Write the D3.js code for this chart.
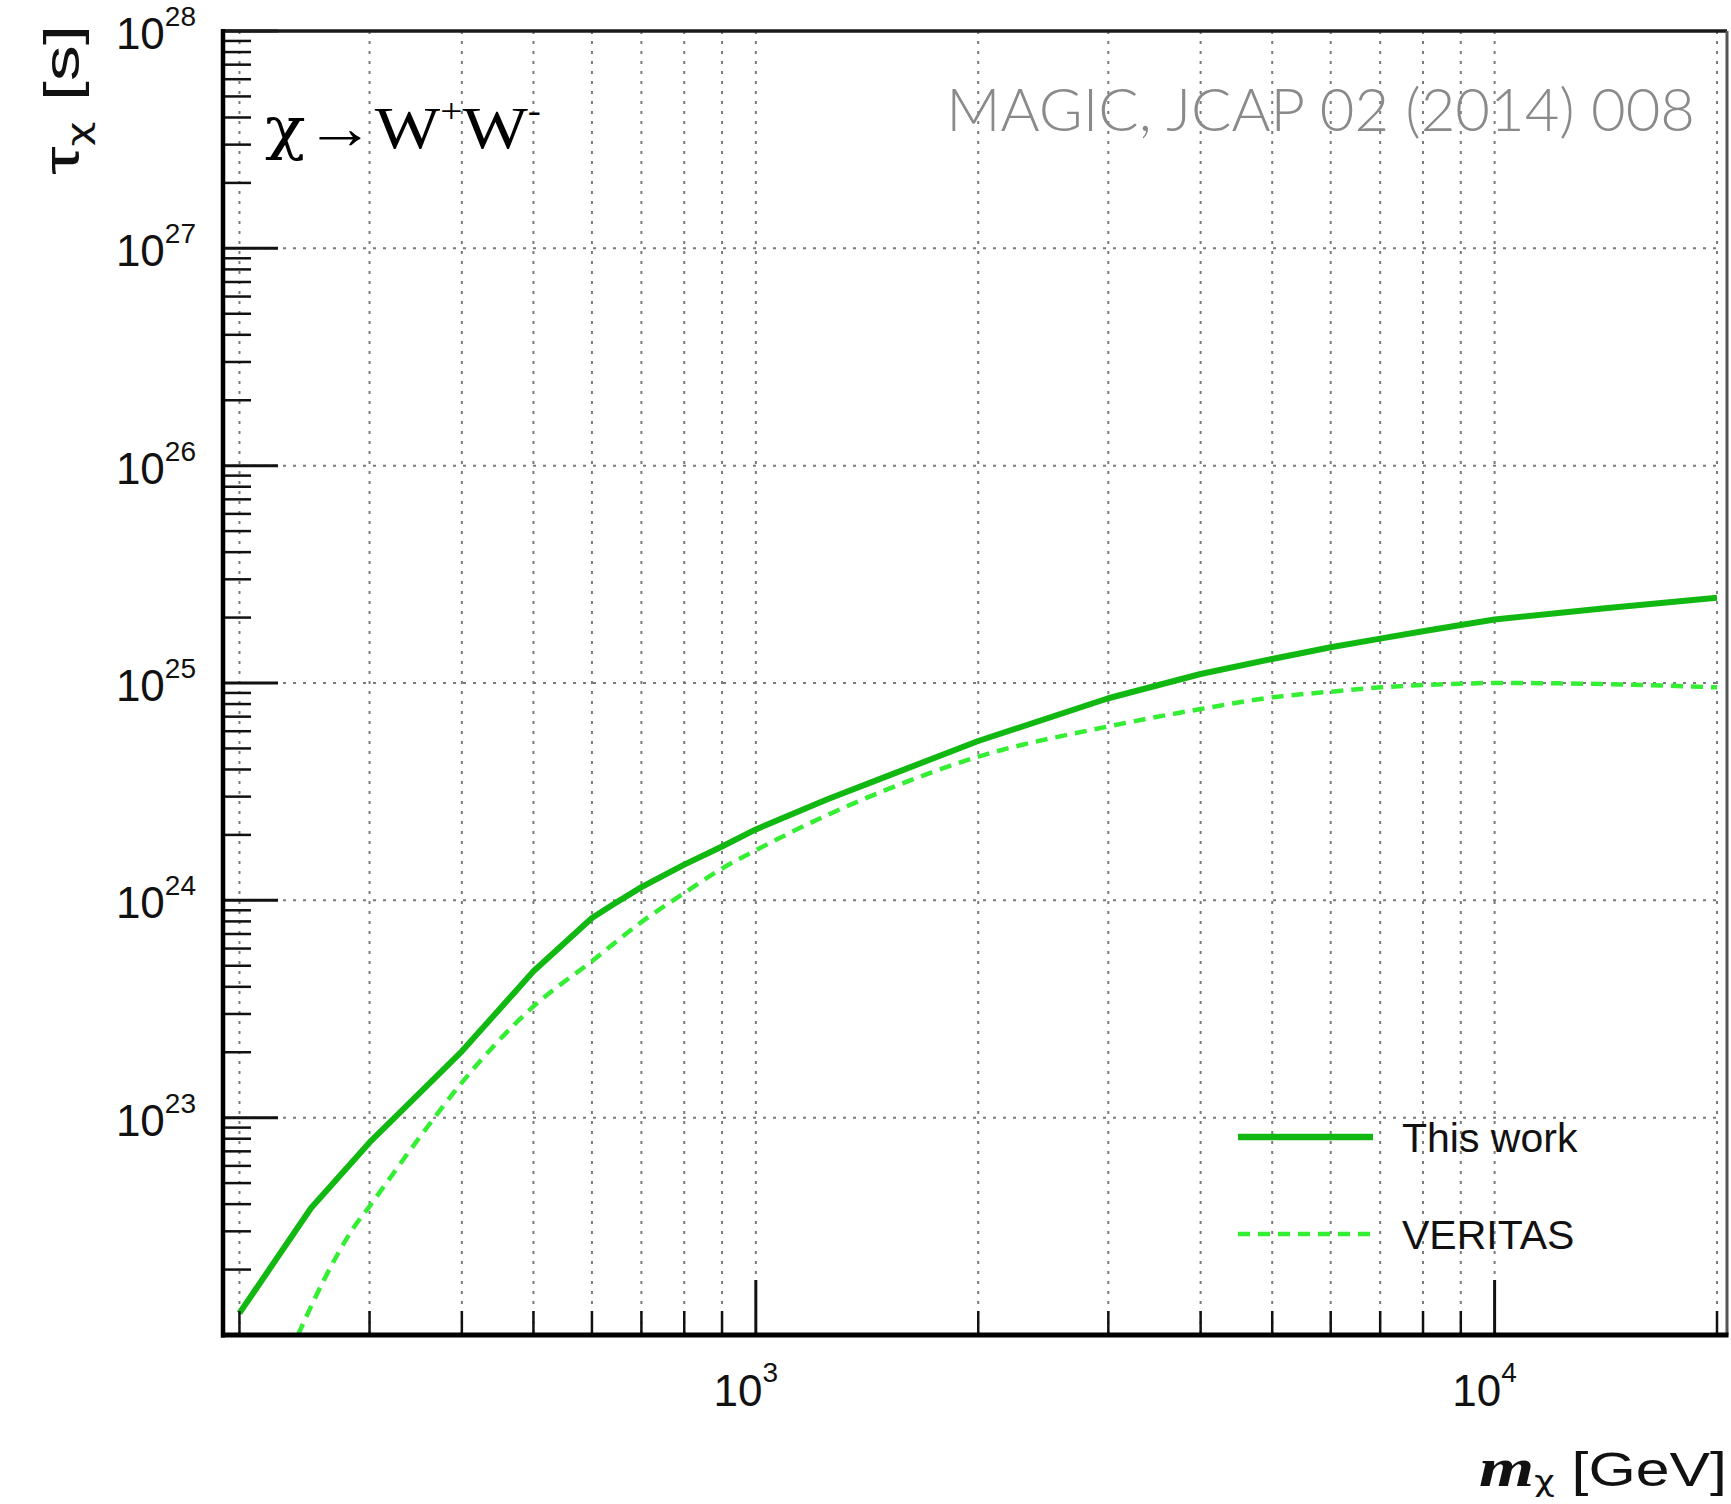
<!DOCTYPE html>
<html>
<head>
<meta charset="utf-8">
<script src="https://cdn.jsdelivr.net/npm/d3@7"></script>
<style>
  body { margin: 0; background: #ffffff; }
  svg { display: block; }
</style>
</head>
<body>
<div id="chart"></div>
<script>
// lifetime limits for chi -> W+W-
var massThisWork = [200, 250, 300, 400, 500, 600, 640, 700, 800, 900, 1000, 1250, 1500, 2000, 3000, 4000, 5000, 6000, 7000, 8000, 9000, 10000, 14000, 20000];
var tauThisWork = [1.26e22, 3.84e22, 7.69e22, 2.02e23, 4.72e23, 8.30e23, 9.55e23, 1.15e24, 1.46e24, 1.77e24, 2.12e24, 2.92e24, 3.71e24, 5.41e24, 8.51e24, 1.10e25, 1.29e25, 1.46e25, 1.60e25, 1.73e25, 1.85e25, 1.96e25, 2.20e25, 2.47e25];

var massVeritas = [240, 260, 285, 300, 350, 400, 500, 600, 700, 800, 900, 1000, 1250, 1500, 2000, 3000, 4000, 5000, 6000, 7000, 8000, 9000, 10000, 14000, 20000];
var tauVeritas = [1.0e22, 1.78e22, 3.09e22, 3.91e22, 8.05e22, 1.45e23, 3.25e23, 5.25e23, 7.94e23, 1.08e24, 1.40e24, 1.70e24, 2.47e24, 3.22e24, 4.58e24, 6.31e24, 7.59e24, 8.59e24, 9.12e24, 9.55e24, 9.79e24, 9.93e24, 1.0e25, 9.89e24, 9.55e24];

// axis ticks
var xMajorTicks = [1000, 10000];
var xMajorLabels = ["3", "4"];
var xMinorTicks = [200, 300, 400, 500, 600, 700, 800, 900, 2000, 3000, 4000, 5000, 6000, 7000, 8000, 9000, 20000];
var yDecades = [1e22, 1e23, 1e24, 1e25, 1e26, 1e27, 1e28];
var yLabelDecades = [1e23, 1e24, 1e25, 1e26, 1e27, 1e28];
var yLabelExponents = ["23", "24", "25", "26", "27", "28"];
var yMinorSteps = [2, 3, 4, 5, 6, 7, 8, 9];

var legendLabels = ["This work", "VERITAS"];
var legendStyles = ["solid", "dashed"];

var W = 1731, H = 1504;
var plot = { left: 223, right: 1717, top: 31, bottom: 1335 };

var svg = d3.select("#chart").append("svg")
    .attr("width", W)
    .attr("height", H);

svg.append("rect")
    .attr("width", W)
    .attr("height", H)
    .attr("fill", "#ffffff");

var x = d3.scaleLog().domain([190, 20000]).range([plot.left, plot.right]);
var y = d3.scaleLog().domain([1e22, 1e28]).range([plot.bottom, plot.top]);

var frameRight = plot.right + 10;

var sansFont = "'Liberation Sans', Arial, Helvetica, sans-serif";
var serifFont = "'Liberation Serif', 'Times New Roman', serif";
// curly chi with a tail, like the ROOT symbol font
var chiFont = "'DejaVu Sans', sans-serif";

//Squeeze or stretch a text along its own direction so it covers a given length
function fitLength(sel, target, pre) {
    var w = sel.node().getBBox().width;
    sel.attr("transform", pre + " scale(" + (target / w) + ",1)");
}

//Vertical dotted grid, one line for every x tick
var allXTicks = xMinorTicks.concat(xMajorTicks);
svg.append("g")
    .selectAll("line")
    .data(allXTicks)
    .enter().append("line")
    .attr("x1", function(d) { return x(d); })
    .attr("x2", function(d) { return x(d); })
    .attr("y1", plot.top)
    .attr("y2", plot.bottom)
    .attr("stroke", "#7a7a7a")
    .attr("stroke-width", 2)
    .attr("stroke-dasharray", "3,7");

//Horizontal dotted grid at the decades only
svg.append("g")
    .selectAll("line")
    .data(yDecades.slice(1, -1))
    .enter().append("line")
    .attr("x1", plot.left)
    .attr("x2", plot.right)
    .attr("y1", function(d) { return y(d); })
    .attr("y2", function(d) { return y(d); })
    .attr("stroke", "#7a7a7a")
    .attr("stroke-width", 2)
    .attr("stroke-dasharray", "3,7");

//Curves, clipped to the frame
svg.append("clipPath")
    .attr("id", "plotClip")
    .append("rect")
    .attr("x", plot.left)
    .attr("y", plot.top)
    .attr("width", plot.right - plot.left)
    .attr("height", plot.bottom - plot.top);

var lineThis = d3.line()
    .x(function(d) { return x(d[0]); })
    .y(function(d) { return y(d[1]); });

var lineVeritas = d3.line()
    .curve(d3.curveMonotoneX)
    .x(function(d) { return x(d[0]); })
    .y(function(d) { return y(d[1]); });

var curves = svg.append("g").attr("clip-path", "url(#plotClip)");

curves.append("path")
    .datum(d3.zip(massVeritas, tauVeritas))
    .attr("d", lineVeritas)
    .attr("fill", "none")
    .attr("stroke", "#33ee33")
    .attr("stroke-width", 4.5)
    .attr("stroke-dasharray", "12,8");

curves.append("path")
    .datum(d3.zip(massThisWork, tauThisWork))
    .attr("d", lineThis)
    .attr("fill", "none")
    .attr("stroke", "#12b812")
    .attr("stroke-width", 6)
    .attr("stroke-linejoin", "round");

//Y ticks, inward, major at decades and minor in between
var yMinor = [];
yDecades.slice(0, -1).forEach(function(dec) {
    yMinorSteps.forEach(function(s) { yMinor.push(dec * s); });
});

svg.append("g")
    .selectAll("line")
    .data(yMinor)
    .enter().append("line")
    .attr("x1", plot.left)
    .attr("x2", plot.left + 28)
    .attr("y1", function(d) { return y(d); })
    .attr("y2", function(d) { return y(d); })
    .attr("stroke", "#111")
    .attr("stroke-width", 2.5);

svg.append("g")
    .selectAll("line")
    .data(yDecades)
    .enter().append("line")
    .attr("x1", plot.left)
    .attr("x2", plot.left + 55)
    .attr("y1", function(d) { return y(d); })
    .attr("y2", function(d) { return y(d); })
    .attr("stroke", "#111")
    .attr("stroke-width", 3);

//X ticks
svg.append("g")
    .selectAll("line")
    .data(xMinorTicks)
    .enter().append("line")
    .attr("x1", function(d) { return x(d); })
    .attr("x2", function(d) { return x(d); })
    .attr("y1", plot.bottom)
    .attr("y2", plot.bottom - 24)
    .attr("stroke", "#111")
    .attr("stroke-width", 2.5);

svg.append("g")
    .selectAll("line")
    .data(xMajorTicks)
    .enter().append("line")
    .attr("x1", function(d) { return x(d); })
    .attr("x2", function(d) { return x(d); })
    .attr("y1", plot.bottom)
    .attr("y2", plot.bottom - 55)
    .attr("stroke", "#111")
    .attr("stroke-width", 3);

//Frame: heavy left and bottom axes, lighter top and right
svg.append("line")
    .attr("x1", plot.left).attr("x2", frameRight)
    .attr("y1", plot.top).attr("y2", plot.top)
    .attr("stroke", "#1a1a1a").attr("stroke-width", 3.5);
svg.append("line")
    .attr("x1", frameRight).attr("x2", frameRight)
    .attr("y1", plot.top).attr("y2", plot.bottom)
    .attr("stroke", "#555").attr("stroke-width", 3);
svg.append("line")
    .attr("x1", plot.left).attr("x2", plot.left)
    .attr("y1", plot.top - 2).attr("y2", plot.bottom + 2.5)
    .attr("stroke", "#000").attr("stroke-width", 4.5);
svg.append("line")
    .attr("x1", plot.left - 2).attr("x2", frameRight + 1.5)
    .attr("y1", plot.bottom).attr("y2", plot.bottom)
    .attr("stroke", "#000").attr("stroke-width", 5);

//Y tick labels 10^n
var yLabels = svg.append("g")
    .selectAll("text")
    .data(d3.zip(yLabelDecades, yLabelExponents))
    .enter().append("text")
    .attr("x", 196)
    .attr("y", function(d) { return y(d[0]) + 18; })
    .attr("text-anchor", "end")
    .style("font-family", sansFont)
    .style("font-size", "44px")
    .style("fill", "#111");
yLabels.append("tspan").text("10");
yLabels.append("tspan")
    .attr("dy", -23)
    .style("font-size", "28px")
    .text(function(d) { return d[1]; });

//X tick labels
var xLabels = svg.append("g")
    .selectAll("text")
    .data(d3.zip(xMajorTicks, xMajorLabels))
    .enter().append("text")
    .attr("x", function(d) { return x(d[0]) - 10; })
    .attr("y", 1406)
    .attr("text-anchor", "middle")
    .style("font-family", sansFont)
    .style("font-size", "44px")
    .style("fill", "#111");
xLabels.append("tspan").text("10");
xLabels.append("tspan")
    .attr("dy", -24)
    .style("font-size", "28px")
    .text(function(d) { return d[1]; });

//Axis titles
var yTitle = svg.append("text")
    .attr("text-anchor", "end")
    .style("font-family", sansFont)
    .style("font-size", "50px")
    .style("fill", "#111");
yTitle.append("tspan").text("τ");
yTitle.append("tspan").attr("dy", 10)
    .style("font-family", chiFont)
    .style("font-size", "30px")
    .text("χ");
yTitle.append("tspan").attr("dy", -10).text(" [s]");
fitLength(yTitle, 150, "translate(79,25) rotate(-90)");

var xTitle = svg.append("text")
    .attr("text-anchor", "end")
    .style("font-family", sansFont)
    .style("font-size", "48px")
    .style("fill", "#111");
xTitle.append("tspan")
    .style("font-family", serifFont)
    .style("font-weight", "bold")
    .style("font-style", "italic")
    .style("font-size", "56px")
    .text("m");
xTitle.append("tspan").attr("dy", 5)
    .style("font-family", chiFont)
    .style("font-size", "28px")
    .text("χ");
xTitle.append("tspan").attr("dy", -5).text(" [GeV]");
fitLength(xTitle, 248, "translate(1727,1486)");

//Channel label in the top left corner
var channel = svg.append("text")
    .style("font-family", serifFont)
    .style("font-size", "60px")
    .style("fill", "#000");
channel.append("tspan")
    .style("font-family", "'DejaVu Serif', serif")
    .style("font-size", "58px")
    .text("χ");
channel.append("tspan").text("→W");
channel.append("tspan").attr("dy", -26).style("font-size", "34px").text("+");
channel.append("tspan").attr("dy", 26).text("W");
channel.append("tspan").attr("dy", -26).style("font-size", "34px").text("-");
fitLength(channel, 276, "translate(265,148)");

//Reference note, fitted to the width it covers in the original
var note = svg.append("text")
    .attr("x", 1695)
    .attr("y", 131)
    .attr("text-anchor", "end")
    .style("font-family", "Lato, 'Open Sans', sans-serif")
    .style("font-weight", 300)
    .style("font-size", "54px")
    .style("fill", "#8a8a8a")
    .text("MAGIC, JCAP 02 (2014) 008");
var noteW = note.node().getComputedTextLength();
note.style("font-size", (54 * 749 / noteW) + "px");

//Legend
var legend = svg.append("g")
    .selectAll("g")
    .data(d3.zip(legendLabels, legendStyles))
    .enter().append("g")
    .attr("transform", function(d, i) { return "translate(0," + (1137 + i * 97) + ")"; });

legend.append("line")
    .attr("x1", 1238)
    .attr("x2", 1373)
    .attr("stroke", function(d) { return d[1] == "solid" ? "#12b812" : "#33ee33"; })
    .attr("stroke-width", function(d) { return d[1] == "solid" ? 6.5 : 4.5; })
    .attr("stroke-dasharray", function(d) { return d[1] == "solid" ? null : "12,8"; });

legend.append("text")
    .attr("x", 1402)
    .attr("y", 15)
    .style("font-family", sansFont)
    .style("font-size", "41px")
    .style("fill", "#111")
    .text(function(d) { return d[0]; });
</script>
</body>
</html>
